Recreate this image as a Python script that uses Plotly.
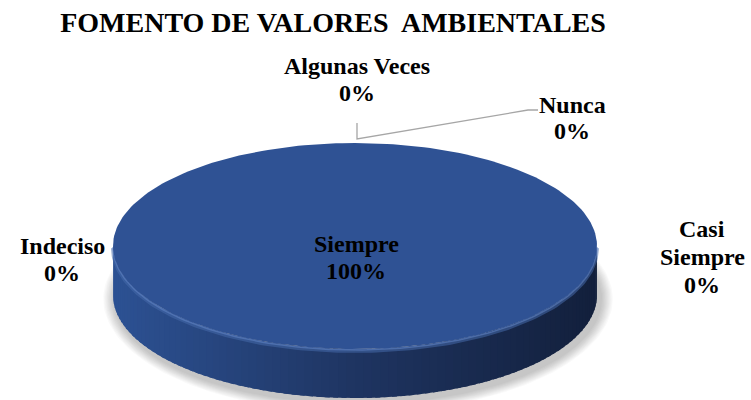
import numpy as np
import plotly.graph_objects as go

# ---- data ----
categories = ["Siempre", "Casi Siempre", "Algunas Veces", "Nunca", "Indeciso"]
values = [100, 0, 0, 0, 0]
label_lines = {
    "Siempre": ["Siempre"],
    "Casi Siempre": ["Casi", "Siempre"],
    "Algunas Veces": ["Algunas Veces"],
    "Nunca": ["Nunca"],
    "Indeciso": ["Indeciso"],
}
title_text = "FOMENTO DE VALORES  AMBIENTALES"

# ---- geometry / style (pixel-like coordinates, y downward) ----
W, H = 751, 400
CX, CY, RX, RY, DEPTH = 355, 246, 242, 103, 49
TOP_COLOR = "#2F5294"
FONT = "Liberation Serif"
# x centre, y of each text line
label_pos = {
    "Siempre": (356, [244, 271]),
    "Casi Siempre": (702, [229, 257, 285]),
    "Algunas Veces": (357, [66, 93]),
    "Nunca": (572, [105, 131]),
    "Indeciso": (62, [246, 273]),
}

total = float(sum(values))
fig = go.Figure()


def pt(t, dy=0.0, rx=RX, ry=RY, cx=CX, cy=CY):
    return cx + rx * np.sin(t), cy - ry * np.cos(t) + dy


# soft shadow
for k in range(10):
    xs, ys = pt(np.linspace(0, 2 * np.pi, 200), dy=DEPTH + 4, rx=RX + 2 + k * 1.2, ry=RY + 2 + k * 1.0, cx=CX + 3)
    fig.add_trace(go.Scatter(x=xs, y=ys, mode="lines", fill="toself", line=dict(width=0),
                             fillcolor="rgba(0,0,0,0.022)", hoverinfo="skip", showlegend=False))


def side_color(u):
    # u in [-1, 1] : left -> right
    left = np.array([45, 82, 148])
    mid = np.array([31, 53, 98])
    right = np.array([19, 32, 60])
    if u < 0:
        c = left + (mid - left) * (u + 1)
    else:
        c = mid + (right - mid) * u
    return "rgb(%d,%d,%d)" % tuple(c.astype(int))


start = 0.0
for cat, v in zip(categories, values):
    if v <= 0:
        continue
    a0 = start
    a1 = start + 2 * np.pi * v / total
    start = a1
    # side (front half only)
    s0 = max(a0, np.pi / 2)
    s1 = min(a1, 3 * np.pi / 2)
    if s1 > s0:
        n = 90
        edges = np.linspace(s0, s1, n + 1)
        step = edges[1] - edges[0]
        for i in range(n):
            e1 = min(edges[i + 1] + step * 0.6, s1)
            tt = np.linspace(edges[i], e1, 4)
            xt, yt = pt(tt)
            xb, yb = pt(tt[::-1], dy=DEPTH)
            u = np.sin((edges[i] + edges[i + 1]) / 2)
            col = side_color(u)
            fig.add_trace(go.Scatter(x=np.r_[xt, xb, xt[0]], y=np.r_[yt, yb, yt[0]], mode="lines",
                                     fill="toself", fillcolor=col, line=dict(width=0),
                                     hoverinfo="skip", showlegend=False))
        # rim highlight (bevel)
        tt = np.linspace(s0, s1, 160)
        xr, yr = pt(tt, dy=2)
        fig.add_trace(go.Scatter(x=xr, y=yr, mode="lines", line=dict(width=4, color="rgba(70,105,170,0.55)"),
                                 hoverinfo="skip", showlegend=False))
        xr, yr = pt(tt, dy=1)
        fig.add_trace(go.Scatter(x=xr, y=yr, mode="lines", line=dict(width=1.5, color="rgba(95,130,195,0.6)"),
                                 hoverinfo="skip", showlegend=False))
    # top face
    tt = np.linspace(a0, a1, 240)
    xs, ys = pt(tt)
    if v < total:
        xs = np.r_[CX, xs, CX]
        ys = np.r_[CY, ys, CY]
    fig.add_trace(go.Scatter(x=xs, y=ys, mode="lines", fill="toself", fillcolor=TOP_COLOR,
                             line=dict(width=0), name=cat, hoverinfo="name", showlegend=False))

# data labels
for cat, v in zip(categories, values):
    pct = round(100 * v / total)
    lines = label_lines[cat] + [f"{pct}%"]
    x, ys = label_pos[cat]
    for line, y in zip(lines, ys):
        fig.add_annotation(x=x, y=y, xref="x", yref="y", text=f"<b>{line}</b>", showarrow=False,
                           font=dict(family=FONT, size=24, color="#000000"), align="center",
                           xanchor="center", yanchor="middle")

# leader line for "Algunas Veces" / "Nunca"
fig.add_shape(type="path", path="M 357 123 L 357 139 L 528 110 L 538 110",
              line=dict(color="#A6A6A6", width=1.3), xref="x", yref="y")

fig.update_layout(
    width=W, height=H,
    margin=dict(l=0, r=0, t=0, b=0),
    paper_bgcolor="white", plot_bgcolor="white",
    title=dict(text=f"<b>{title_text}</b>", x=333 / W, xanchor="center", y=1 - 22 / H, yanchor="middle",
               font=dict(family=FONT, size=28, color="#000000")),
    xaxis=dict(range=[0, W], visible=False, fixedrange=True),
    yaxis=dict(range=[H, 0], visible=False, fixedrange=True),
    showlegend=False,
)

fig.write_html("out.html", config={"displayModeBar": False},
               post_script="document.body.style.margin='0';document.body.style.overflow='hidden';")
